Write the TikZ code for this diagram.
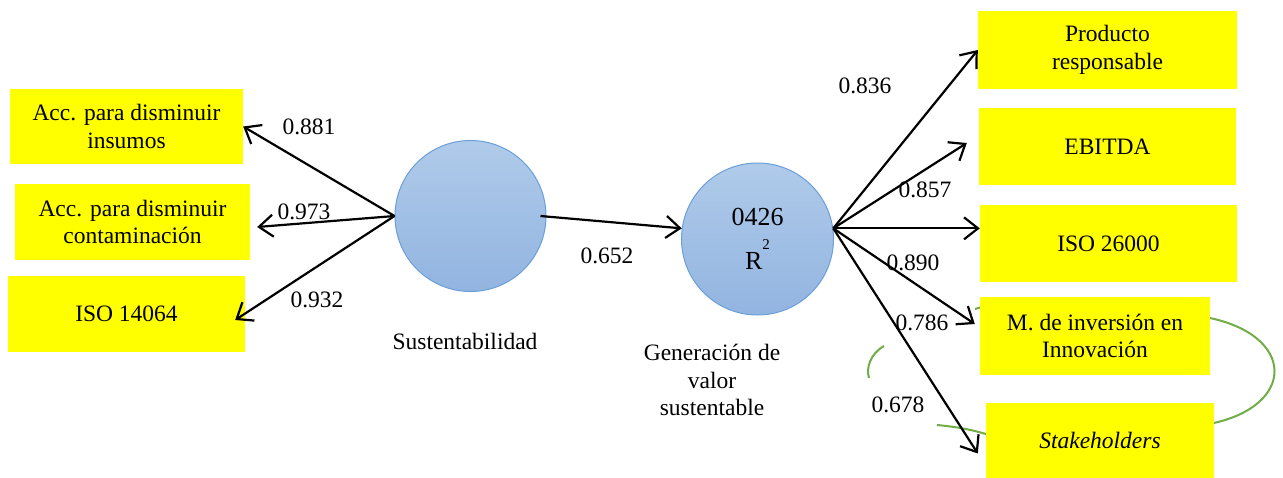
\documentclass[tikz,border=0pt]{standalone}
\usepackage{fontspec}
\setmainfont{Liberation Serif}
\usetikzlibrary{arrows.meta}
\definecolor{boxyellow}{HTML}{FFFF00}
\definecolor{circtop}{HTML}{B0CBEA}
\definecolor{circbot}{HTML}{92B4E0}
\definecolor{circedge}{HTML}{6A9FD8}
\definecolor{loopgreen}{HTML}{70AD47}
\begin{document}
\begin{tikzpicture}[x=1pt,y=-1pt,
  txt/.style={font=\fontsize{23.5}{27.5}\selectfont, align=center, inner sep=0pt},
  ybox/.style={txt, fill=boxyellow, draw=none},
  lv/.style={circle, top color=circtop, bottom color=circbot, draw=circedge, line width=1pt, minimum size=#1, inner sep=0pt},
  conn/.style={line width=2.2pt, -{Straight Barb[length=14pt,width=22pt,line width=2.2pt]}},
  loop/.style={draw=loopgreen, line width=2pt}]
\useasboundingbox (0,0) rectangle (1283,477);
% green loop pieces (behind boxes)
\draw[loop] (1205,317) .. controls (1297,334) and (1297,407) .. (1209,424);
\draw[loop] (884,346) .. controls (870,354) and (866,368) .. (869,378);
\draw[loop] (937,425) .. controls (958,427) and (975,430) .. (995,437);
\draw[loop] (975,309) -- (992,304);
% indicator boxes
\node[ybox, minimum width=233pt, minimum height=75pt] (b1) at (126.5,126.5) {Acc. para disminuir\\insumos};
\node[ybox, minimum width=235pt, minimum height=76pt] (b2) at (132.5,222) {Acc. para disminuir\\contaminación};
\node[ybox, minimum width=237pt, minimum height=76pt] (b3) at (126.5,314) {ISO 14064};
\node[ybox, minimum width=259pt, minimum height=78pt] (b4) at (1107.5,50) {Producto\\responsable};
\node[ybox, minimum width=257pt, minimum height=77pt] (b5) at (1107.5,146.5) {EBITDA};
\node[ybox, minimum width=257pt, minimum height=77pt] (b6) at (1108.5,243.5) {ISO 26000};
\node[ybox, minimum width=230pt, minimum height=78pt] (b7) at (1095,336) {M. de inversión en\\Innovación};
\node[ybox, minimum width=228pt, minimum height=75pt] (b8) at (1100,440) {\itshape Stakeholders};
% latent variables
\node[lv=151pt] (s) at (470.5,216) {};
\node[lv=152pt, font=\fontsize{26}{44}\selectfont, align=center] (g) at (757.5,239) {0426\\R\raisebox{20pt}{\fontsize{15}{15}\selectfont 2}};
\node[txt] (cs) at (465,341) {Sustentabilidad};
\node[txt] (cg) at (712,380) {Generación de\\valor\\sustentable};
% loading labels
\node[txt] (l1) at (309,127) {0.881};
\node[txt] (l2) at (304,212) {0.973};
\node[txt] (l3) at (317,300) {0.932};
\node[txt] (l4) at (607,256) {0.652};
\node[txt] (l5) at (865,86) {0.836};
\node[txt] (l6) at (925,190) {0.857};
\node[txt] (l7) at (913,263) {0.890};
\node[txt] (l8) at (922,323) {0.786};
\node[txt] (l9) at (898,405) {0.678};
% connectors
\draw[conn] (s.west) -- (b1.east);
\draw[conn] (s.west) -- ([xshift=7pt,yshift=-5pt]b2.east);
\draw[conn] (s.west) -- ([xshift=-10pt,yshift=-6pt]b3.east);
\draw[conn] ([xshift=-6pt]s.east) -- (g.172);
\draw[conn] (g.8) -- (b4.west);
\draw[conn] (g.8) -- ([xshift=-12pt,yshift=3.5pt]b5.west);
\draw[conn] (g.8) -- (g.8 -| b6.west);
\draw[conn] (g.8) -- ([xshift=-5pt,yshift=12pt]b7.west);
\draw[conn] (g.8) -- ([xshift=-8pt,yshift=-13.5pt]b8.west);
\end{tikzpicture}
\end{document}
